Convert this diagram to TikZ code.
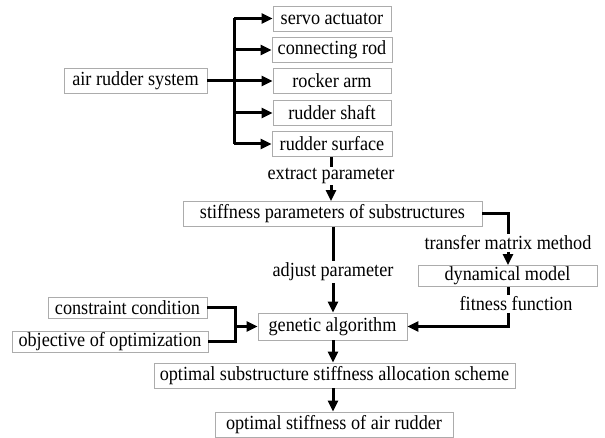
\documentclass[tikz,border=0pt]{standalone}
\usepackage{fontspec}
\setmainfont{Liberation Serif}[FakeStretch=0.91]
\usetikzlibrary{arrows.meta,calc}
% pale edges, white body
\pgfdeclarehorizontalshading{boxshade}{100bp}{color(0bp)=(gray!30); color(8bp)=(white); color(90bp)=(white); color(100bp)=(gray!35)}
\begin{document}
\begin{tikzpicture}[x=1pt,y=-1pt,
  font=\fontsize{20}{22}\selectfont,
  box/.style={draw=gray!65, line width=0.8pt, shading=boxshade,
    inner sep=0pt, minimum height=25pt, anchor=center},
  lbl/.style={inner sep=1.5pt, anchor=center},
  wire/.style={line width=3pt},
  arr/.style={wire, -{Triangle[length=11pt,width=10pt]}}]
\useasboundingbox (0,0) rectangle (605,438);

% component boxes
\node[box, minimum width=118pt] (servo)   at (332,18.5) {servo actuator};
\node[box, minimum width=120pt] (rod)     at (332,50)   {connecting rod};
\node[box, minimum width=118pt] (rocker)  at (332,81)   {rocker arm};
\node[box, minimum width=118pt] (shaft)   at (332,113)  {rudder shaft};
\node[box, minimum width=120pt] (surface) at (332,144)  {rudder surface};
\node[box, minimum width=143pt] (air)     at (135.5,81) {air rudder system};

% optimisation chain
\node[box, minimum width=299pt] (stiff)   at (332.5,214) {stiffness parameters of substructures};
\node[box, minimum width=179pt, minimum height=21pt] (dyn) at (507.5,276) {dynamical model};
\node[box, minimum width=159pt, minimum height=21pt] (cons) at (127.5,307.5) {constraint condition};
\node[box, minimum width=196pt, minimum height=21pt] (obj)  at (110,341.5) {objective of optimization};
\node[box, minimum width=149pt, minimum height=27pt] (ga)   at (332.5,326.5) {genetic algorithm};
\node[box, minimum width=361pt] (optsub)   at (334.5,375.5) {optimal substructure stiffness allocation scheme};
\node[box, minimum width=238pt] (optstiff) at (334,424.5)  {optimal stiffness of air rudder};

% connector labels
\node[lbl] (extract) at (331,176) {extract parameter};
\node[lbl] (tmm)     at (508,243) {transfer matrix method};
\node[lbl] (adjust)  at (333,272) {adjust parameter};
\node[lbl] (fit)     at (516,304) {fitness function};

% branching from the system to its components
\coordinate (br) at (234,81);
\draw[wire] (br |- servo) -- (br |- surface);
\draw[arr] (air.east) -- (rocker.west);
\draw[arr] (br |- servo) -- (servo.west);
\draw[arr] (br |- rod) -- (rod.west);
\draw[arr] (br |- shaft) -- (shaft.west);
\draw[arr] (br |- surface) -- (surface.west);

% rudder surface -> stiffness parameters
\draw[wire] (surface.south -| extract) -- (extract.north);
\draw[arr] (extract.south) -- (extract.south |- stiff.north);

% stiffness parameters -> dynamical model
\draw[wire] (stiff.east) -| (tmm.north);
\draw[arr] (tmm.south) -- (tmm.south |- dyn.north);

% stiffness parameters -> genetic algorithm
\draw[wire] (stiff.south -| adjust) -- (adjust.north);
\draw[arr] (adjust.south) -- (adjust.south |- ga.north);

% dynamical model -> genetic algorithm
\coordinate (fx) at (508,304);
\draw[wire] (dyn.south -| fx) -- (fit.north -| fx);
\draw[arr] (fit.south -| fx) |- (ga.east);

% constraints and objective -> genetic algorithm
\coordinate (jn) at (235,326.5);
\draw[wire] (cons.east) -| (jn) |- (obj.east);
\draw[arr] (jn) -- (ga.west);

% results
\draw[arr] (ga.south -| adjust) -- (adjust |- optsub.north);
\draw[arr] (optsub.south -| adjust) -- (adjust |- optstiff.north);
\end{tikzpicture}
\end{document}
